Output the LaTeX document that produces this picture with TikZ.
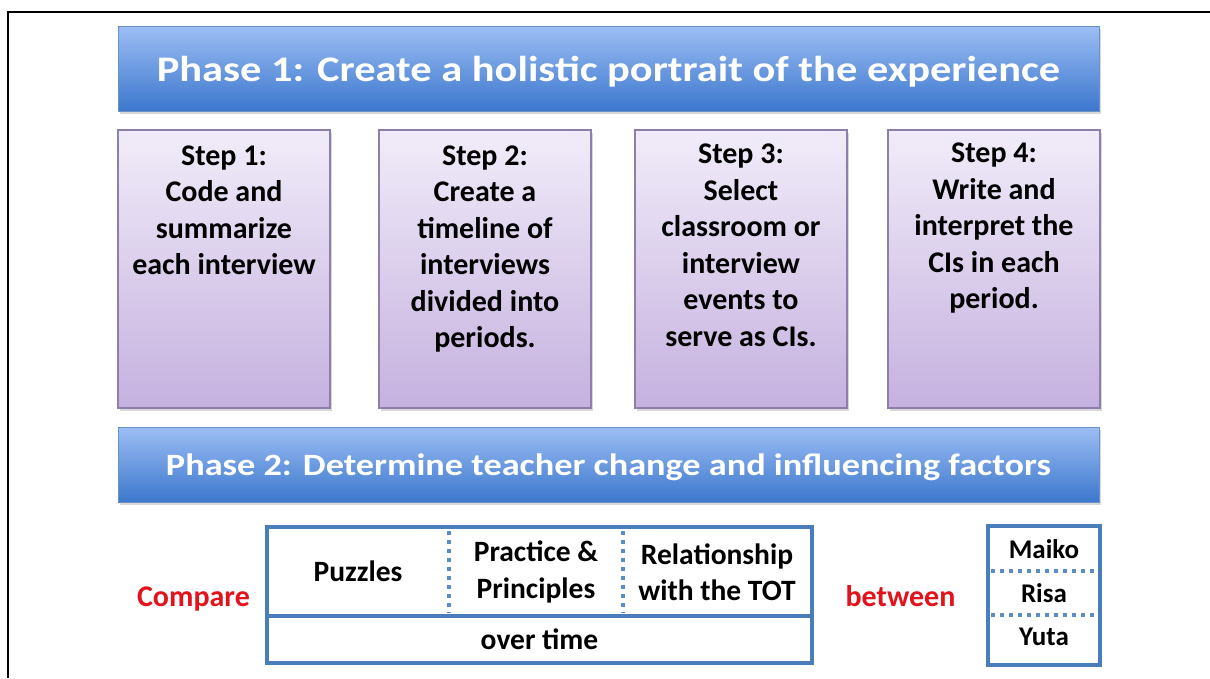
\documentclass[tikz,border=0pt]{standalone}
\usepackage{fontspec}
\setmainfont{Carlito}
\usetikzlibrary{shadows}
\definecolor{bannertop}{HTML}{9CBEF4}
\definecolor{bannerbot}{HTML}{3C77CD}
\definecolor{bannerline}{HTML}{6A92C8}
\definecolor{steptop}{HTML}{F1ECF9}
\definecolor{stepbot}{HTML}{C5B1DF}
\definecolor{stepline}{HTML}{8E7FAA}
\definecolor{tblblue}{HTML}{4A7EBB}
\definecolor{dotblue}{HTML}{5B8CC6}
\definecolor{cmpred}{HTML}{E3121B}
\begin{document}
\begin{tikzpicture}[x=1pt,y=-1pt,
  banner/.style={draw=bannerline, line width=1pt, top color=bannertop, bottom color=bannerbot,
    drop shadow={opacity=0.3, shadow xshift=2pt, shadow yshift=-3pt}, inner sep=0pt},
  titletext/.style={text=white, font=\bfseries, anchor=base, inner sep=0pt},
  stepbox/.style={draw=stepline, line width=1.2pt, top color=steptop, bottom color=stepbot,
    minimum width=212pt, minimum height=278pt, inner sep=0pt,
    drop shadow={opacity=0.3, shadow xshift=2pt, shadow yshift=-3pt}},
  steptext/.style={font=\bfseries\fontsize{30}{36.5}\selectfont, align=center, anchor=north, inner sep=0pt},
  tblbox/.style={draw=tblblue, line width=4pt, inner sep=0pt, fill=white},
  tblline/.style={draw=tblblue, line width=4pt},
  dotline/.style={draw=dotblue, line width=3.5pt, dash pattern=on 3.5pt off 5.5pt},
  celltext/.style={font=\bfseries\fontsize{29.5}{36.5}\selectfont, align=center, inner sep=0pt},
  nametext/.style={font=\bfseries\fontsize{27}{32}\selectfont, anchor=base, inner sep=0pt},
  redtext/.style={font=\bfseries\fontsize{30}{36}\selectfont, text=cmpred, anchor=base, inner sep=0pt}
]
\useasboundingbox (0,0) rectangle (1210,678);
\fill[white] (0,0) rectangle (1210,678);
% frame
\draw[line width=2.3pt] (8,678) -- (8,12.2) -- (1210,12.2);

% Phase 1
\node[banner, minimum width=981pt, minimum height=85pt] (p1) at (608.5,68.5) {};
\node[titletext, font=\bfseries\fontsize{36}{40}\selectfont] (p1t) at (608.5,81)
  {\scalebox{1.18}[1]{Phase 1: Create a holistic portrait of the experience}};

% Steps
\node[stepbox] (s1) at (224,269) {};
\node[stepbox] (s2) at (485,269) {};
\node[stepbox] (s3) at (741,269) {};
\node[stepbox] (s4) at (994,269) {};
\node[steptext] (t1) at (224,145.5) {Step 1:\\Code and\\summarize\\each interview};
\node[steptext] (t2) at (485,145.5) {Step 2:\\Create a\\timeline of\\interviews\\divided into\\periods.};
\node[steptext] (t3) at (741,144) {Step 3:\\Select\\classroom or\\interview\\events to\\serve as CIs.};
\node[steptext] (t4) at (994,143) {Step 4:\\Write and\\interpret the\\CIs in each\\period.};

% Phase 2
\node[banner, minimum width=981pt, minimum height=75pt] (p2) at (608.5,464.5) {};
\node[titletext, font=\bfseries\fontsize{31}{36}\selectfont] (p2t) at (608.5,475.5)
  {\scalebox{1.17}[1]{Phase 2: Determine teacher change and influencing factors}};

% Table
\node[tblbox, minimum width=545pt, minimum height=136pt] (tb) at (539.5,595) {};
\draw[tblline] (267,615.5) -- (812,615.5);
\draw[dotline] (449,531) -- (449,613);
\draw[dotline] (623,531) -- (623,613);
\node[celltext, anchor=base] (puz) at (358,581) {Puzzles};
\node[celltext] (pp) at (536,572) {Practice \&\\Principles};
\node[celltext] (rel) at (717,572) {Relationship\\with the TOT};
\node[celltext, anchor=base] (ot) at (539.5,649) {over time};

% Compare / between
\node[redtext] (cmp) at (193.5,606) {Compare};
\node[redtext] (btw) at (900.5,606) {between};

% Names
\node[tblbox, minimum width=112pt, minimum height=139pt] (nm) at (1044,595.5) {};
\draw[dotline] (991,571) -- (1098,571);
\draw[dotline] (991,615) -- (1098,615);
\node[nametext] (mk) at (1044,558) {Maiko};
\node[nametext] (rs) at (1044,602) {Risa};
\node[nametext] (yt) at (1044,645) {Yuta};
\end{tikzpicture}
\end{document}
